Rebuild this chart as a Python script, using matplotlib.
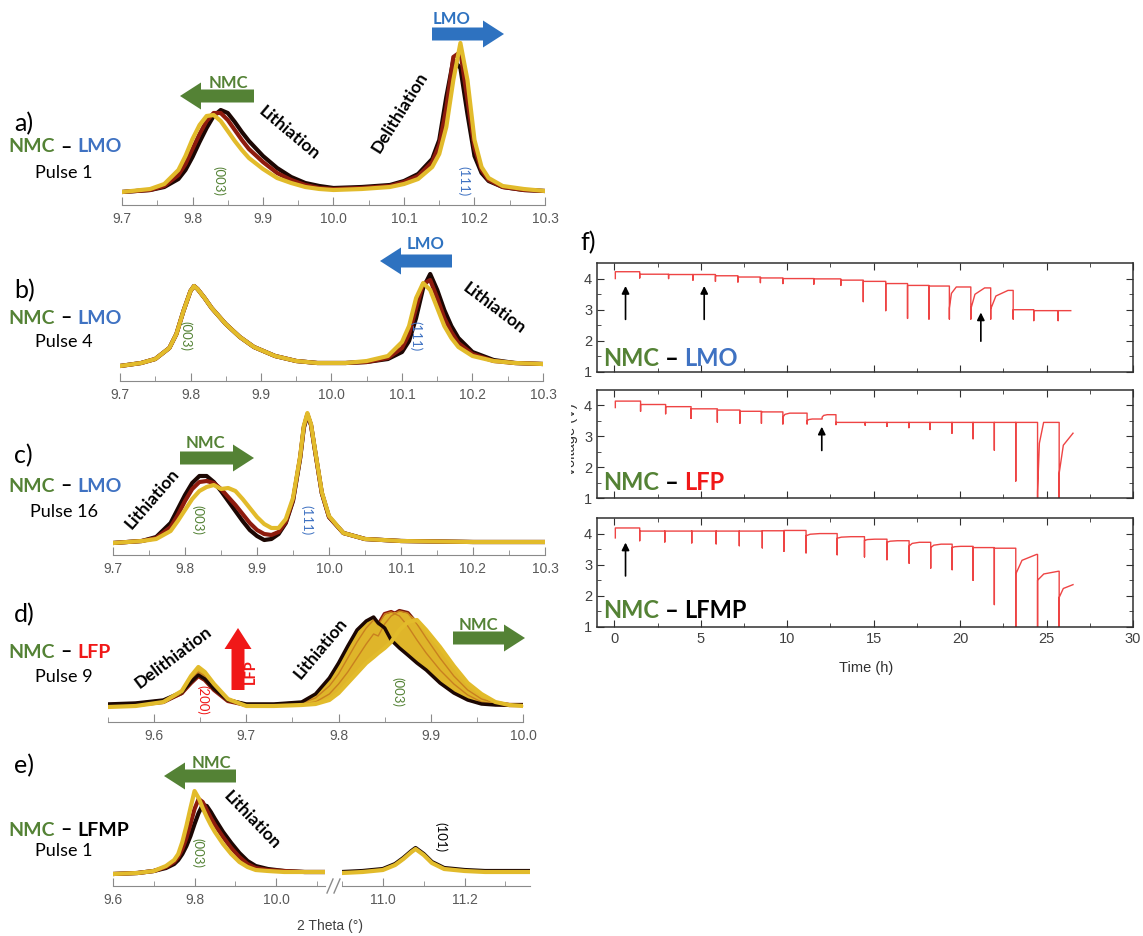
import numpy as np
import matplotlib
matplotlib.use('Agg')
import matplotlib.pyplot as plt
from matplotlib.patches import FancyArrow
from matplotlib.lines import Line2D
from matplotlib.offsetbox import TextArea, HPacker, AnnotationBbox
from matplotlib.transforms import Bbox

# ---------------- data ----------------
# XRD scans, intensity given as height above baseline (pixels of the original)
a_theta = [9.70, 9.74, 9.76, 9.78, 9.79, 9.80, 9.81, 9.82, 9.83, 9.84, 9.85, 9.86, 9.87, 9.88, 9.90,
           9.92, 9.94, 9.96, 9.98, 10.00, 10.04, 10.08, 10.10, 10.12, 10.14, 10.15, 10.16, 10.17,
           10.18, 10.19, 10.20, 10.21, 10.22, 10.24, 10.27, 10.30]
a_first = [0, 2, 5, 13, 22, 35, 50, 64, 76, 82, 79, 70, 60, 51, 36, 24, 15, 9, 6, 4, 5, 7, 11, 18,
           33, 52, 95, 132, 124, 78, 36, 19, 11, 5, 2, 1]
a_mid = [0, 2, 6, 17, 28, 43, 58, 71, 79, 79, 72, 62, 52, 43, 30, 19, 12, 7, 4, 3, 4, 6, 10, 16,
         30, 47, 84, 135, 140, 92, 44, 22, 12, 5, 2, 1]
a_last = [0, 3, 8, 22, 36, 53, 67, 76, 77, 71, 61, 51, 42, 34, 23, 14, 9, 5, 3, 2, 3, 5, 8, 13,
          25, 38, 65, 112, 149, 112, 52, 25, 14, 6, 3, 1]

b_theta = [9.70, 9.73, 9.75, 9.77, 9.78, 9.79, 9.80, 9.805, 9.81, 9.82, 9.83, 9.85, 9.87, 9.89,
           9.92, 9.95, 9.98, 10.02, 10.05, 10.08, 10.10, 10.11, 10.12, 10.13, 10.14, 10.15, 10.16,
           10.17, 10.18, 10.20, 10.23, 10.26, 10.30]
b_first = [0, 3, 7, 18, 32, 55, 75, 80, 77, 68, 58, 42, 29, 19, 10, 5, 3, 3, 4, 7, 14, 25, 48,
           78, 92, 76, 56, 40, 28, 14, 6, 3, 2]
b_mid = [0, 3, 7, 18, 32, 55, 75, 80, 77, 68, 58, 42, 29, 19, 10, 5, 3, 3, 4, 8, 18, 32, 58,
         82, 86, 68, 48, 34, 23, 12, 5, 3, 2]
b_last = [0, 3, 7, 18, 32, 55, 75, 80, 77, 68, 58, 42, 29, 19, 10, 5, 3, 3, 5, 10, 24, 40, 68,
          83, 76, 58, 40, 28, 19, 10, 5, 3, 2]

c_theta = [9.70, 9.74, 9.76, 9.78, 9.79, 9.80, 9.81, 9.82, 9.83, 9.84, 9.85, 9.86, 9.87, 9.88,
           9.89, 9.90, 9.91, 9.92, 9.93, 9.94, 9.95, 9.96, 9.965, 9.97, 9.975, 9.98, 9.99, 10.00,
           10.02, 10.05, 10.10, 10.20, 10.30]
c_first = [0, 2, 6, 20, 34, 48, 60, 67, 67, 61, 52, 42, 32, 22, 13, 7, 3, 4, 9, 20, 42, 85, 115,
           128, 118, 95, 50, 26, 10, 4, 2, 1, 1]
c_mid = [0, 2, 5, 16, 28, 42, 54, 61, 62, 60, 54, 46, 38, 29, 20, 13, 9, 8, 11, 21, 43, 86, 116,
         129, 118, 95, 50, 26, 10, 4, 2, 1, 1]
c_last = [0, 2, 4, 12, 22, 33, 44, 52, 56, 58, 54, 55, 52, 44, 35, 26, 19, 15, 15, 24, 45, 87,
          117, 130, 119, 96, 51, 27, 10, 4, 2, 1, 1]

d_theta = [9.55, 9.58, 9.61, 9.63, 9.64, 9.648, 9.655, 9.665, 9.68, 9.70, 9.73, 9.76, 9.775, 9.79,
           9.80, 9.81, 9.82, 9.83, 9.838, 9.843, 9.85, 9.857, 9.866, 9.875, 9.885, 9.895, 9.91,
           9.925, 9.94, 9.955, 9.97, 9.985, 10.0]
d_first = [4, 5, 8, 16, 26, 33, 29, 19, 8, 4, 4, 6, 14, 30, 45, 62, 78, 87, 91, 85, 80, 68, 60,
           53, 45, 38, 25, 15, 8, 4, 3, 3, 3]
d_mid = [3, 4, 7, 15, 25, 32, 28, 18, 7, 3, 3, 5, 10, 22, 34, 50, 66, 80, 88, 83, 94, 96, 92, 82,
         68, 55, 38, 24, 13, 6, 4, 3, 3]
d_late = [2, 3, 6, 15, 28, 36, 32, 21, 8, 3, 3, 4, 6, 14, 24, 36, 50, 64, 74, 72, 84, 92, 97, 95,
          84, 70, 50, 32, 18, 9, 5, 3, 3]
d_last = [1, 2, 6, 17, 32, 41, 36, 24, 9, 2, 2, 3, 4, 8, 15, 25, 35, 45, 51, 55, 60, 66, 78, 86,
          88, 78, 61, 42, 25, 14, 6, 3, 2]

e_theta_l = [9.60, 9.66, 9.70, 9.73, 9.75, 9.76, 9.77, 9.78, 9.79, 9.80, 9.81, 9.82, 9.83, 9.84,
             9.85, 9.87, 9.89, 9.91, 9.93, 9.95, 9.98, 10.02, 10.07, 10.12]
e_first_l = [0, 1, 3, 6, 10, 14, 20, 28, 38, 50, 61, 69, 68, 62, 55, 42, 31, 21, 13, 8, 5, 3, 2, 2]
e_mid_l = [0, 1, 3, 7, 12, 17, 25, 36, 50, 65, 75, 72, 64, 56, 49, 37, 26, 17, 10, 6, 4, 3, 2, 2]
e_last_l = [0, 1, 3, 8, 14, 20, 32, 48, 66, 83, 76, 66, 57, 49, 42, 30, 20, 12, 7, 4, 3, 2, 2, 2]
e_theta_r = [10.90, 10.95, 11.00, 11.03, 11.05, 11.07, 11.08, 11.10, 11.12, 11.15, 11.20, 11.25,
             11.30, 11.36]
e_first_r = [2, 3, 5, 10, 16, 23, 26, 20, 12, 6, 4, 3, 3, 3]
e_last_r = [1, 2, 4, 9, 15, 22, 25, 19, 11, 5, 3, 2, 2, 2]

# pulse voltage profiles: pulse start (h), dip (V), value right after (V), value reached (V), rise time (h)
lmo_t = [0.06, 1.47, 3.14, 4.55, 5.85, 7.15, 8.45, 9.75, 11.54, 13.1, 14.4, 15.7, 16.96, 18.2,
         19.38, 20.62, 21.77, 23.07, 24.26, 25.67]
lmo_dip = [4.0, 4.02, 4.0, 3.95, 3.91, 3.89, 3.87, 3.84, 3.82, 3.78, 3.26, 2.97, 2.72, 2.70, 2.70,
           2.70, 2.70, 2.70, 2.65, 2.65]
lmo_rec = [4.22, 4.14, 4.13, 4.13, 4.09, 4.05, 4.02, 4.0, 3.99, 3.95, 3.91, 3.84, 3.78, 3.76,
           3.05, 3.02, 3.02, 3.0, 2.97, 2.97]
lmo_end = [4.22, 4.14, 4.13, 4.13, 4.09, 4.05, 4.02, 4.0, 3.99, 3.95, 3.91, 3.84, 3.78, 3.76,
           3.73, 3.70, 3.62, 3.0, 2.97, 2.97]
lmo_rise = [0.3, 0.3, 0.3, 0.3, 0.3, 0.3, 0.3, 0.3, 0.3, 0.3, 0.3, 0.3, 0.3, 0.3, 0.4, 0.8, 1.0,
            0.3, 0.3, 0.3]
lmo_stop = 26.4

lfp_t = [0.06, 1.52, 2.97, 4.44, 5.96, 7.26, 8.51, 9.75, 11.15, 12.02, 12.82, 14.51, 15.77, 17.04,
         18.26, 19.53, 20.75, 21.98, 23.22, 24.48, 25.73]
lfp_dip = [3.93, 3.81, 3.73, 3.58, 3.46, 3.42, 3.42, 3.40, 3.40, 3.56, 3.38, 3.36, 3.32, 3.28,
           3.22, 3.10, 2.92, 2.55, 1.55, 1.0, 1.0]
lfp_rec = [4.14, 4.03, 3.96, 3.89, 3.85, 3.81, 3.79, 3.62, 3.50, 3.62, 3.45, 3.45, 3.45, 3.45,
           3.45, 3.45, 3.45, 3.45, 3.45, 1.2, 1.8]
lfp_end = [4.14, 4.03, 3.96, 3.89, 3.85, 3.81, 3.79, 3.75, 3.56, 3.70, 3.45, 3.45, 3.45, 3.45,
           3.45, 3.45, 3.45, 3.45, 3.45, 3.45, 3.1]
lfp_rise = [0.3, 0.3, 0.3, 0.3, 0.3, 0.3, 0.3, 0.4, 0.3, 0.3, 0.3, 0.3, 0.3, 0.3, 0.3, 0.3, 0.3,
            0.3, 0.3, 0.35, 0.8]
lfp_stop = 26.53

lfmp_t = [0.06, 1.47, 2.92, 4.48, 5.89, 7.23, 8.56, 9.81, 11.09, 12.89, 14.47, 15.77, 17.05,
          18.3, 19.54, 20.75, 21.98, 23.22, 24.48, 25.73]
lfmp_dip = [3.86, 3.77, 3.73, 3.70, 3.67, 3.61, 3.54, 3.43, 3.38, 3.32, 3.25, 3.16, 3.05, 2.89,
            2.84, 2.5, 1.72, 1.0, 1.0, 1.0]
lfmp_rec = [4.18, 4.08, 4.08, 4.08, 4.08, 4.08, 4.09, 4.1, 3.93, 3.85, 3.78, 3.72, 3.6, 3.55,
            3.55, 3.55, 3.53, 2.7, 2.5, 1.95]
lfmp_end = [4.18, 4.08, 4.08, 4.08, 4.08, 4.08, 4.09, 4.1, 4.0, 3.9, 3.82, 3.77, 3.72, 3.66,
            3.59, 3.55, 3.53, 3.33, 2.79, 2.36]
lfmp_rise = [0.3, 0.3, 0.3, 0.3, 0.3, 0.3, 0.3, 0.3, 0.8, 0.8, 0.6, 0.6, 0.6, 0.6, 0.5, 0.3, 0.3,
             1.2, 1.2, 0.8]
lfmp_stop = 26.53

# ---------------- styling ----------------
W, H = 1143, 936
GREEN = '#548235'
BLUE = '#3F72C2'
RED = '#F01818'
ARROW_BLUE = '#2E72C0'
TICKCOL = '#595959'
SCAN = ['#1c0703', '#8e1b0d', '#7a1a0c', '#e2bb2b']
BAND = '#dfb52a'
STREAK = '#c9801f'
LABEL_FONT = ['Lato', 'DejaVu Sans']
plt.rcParams['font.family'] = ['Liberation Sans', 'DejaVu Sans']

fig = plt.figure(figsize=(W / 100, H / 100), dpi=100)


def add_ax(x0, x1, ytop, ybot):
    return fig.add_axes([x0 / W, 1 - ybot / H, (x1 - x0) / W, (ybot - ytop) / H])


def xrd_axes(x0, x1, ytop, yaxis, off, xlim, majors, minors):
    ax = add_ax(x0, x1, ytop, yaxis)
    ax.set_xlim(*xlim)
    ax.set_ylim(-off, yaxis - ytop - off)
    ax.patch.set_alpha(0)
    for s in ['left', 'right', 'top']:
        ax.spines[s].set_visible(False)
    ax.spines['bottom'].set_color('#8a8a8a')
    ax.set_yticks([])
    ax.set_xticks(majors)
    ax.set_xticklabels(['%.1f' % v for v in majors])
    ax.set_xticks(minors, minor=True)
    ax.tick_params(axis='x', which='both', direction='in', color='#8a8a8a',
                   labelsize=10, labelcolor=TICKCOL, pad=5)
    ax.tick_params(axis='x', which='major', length=6)
    ax.tick_params(axis='x', which='minor', length=3.5)
    return ax


def scans(ax, theta, curves, colors, lw=3, z=2):
    for ys, c in zip(curves, colors):
        ax.plot(theta, ys, color=c, lw=lw, solid_joinstyle='round', solid_capstyle='round',
                zorder=z)


def ftext(x, y, s, size, color='k', weight='normal', rot=0, ha='center', family=LABEL_FONT):
    return fig.text(x / W, 1 - y / H, s, fontsize=size, color=color, fontweight=weight,
                    rotation=rot, ha=ha, va='center', family=family, rotation_mode='anchor')


def fat_arrow(x0, y0, x1, y1, color):
    arr = FancyArrow(x0 / 100, (H - y0) / 100, (x1 - x0) / 100, (y0 - y1) / 100,
                     width=0.13, head_width=0.27, head_length=0.21,
                     length_includes_head=True, color=color, lw=0,
                     transform=fig.dpi_scale_trans)
    fig.add_artist(arr)


def pair_label(x, y, parts, size):
    boxes = [TextArea(s, textprops=dict(color=c, fontsize=size, fontweight='bold',
                                        family=LABEL_FONT)) for s, c in parts]
    pack = HPacker(children=boxes, align='baseline', pad=0, sep=4)
    ab = AnnotationBbox(pack, (x / 100, (H - y) / 100), xycoords=fig.dpi_scale_trans,
                        frameon=False, box_alignment=(0, 0.5), pad=0)
    fig.add_artist(ab)


def panel_text(y_letter, y_pair, y_pulse, letter, partner, pcolor, pulse):
    ftext(14, y_letter, letter, 18, ha='left')
    pair_label(8, y_pair, [('NMC', GREEN), ('\u2013', 'k'), (partner, pcolor)], 14)
    ftext(64, y_pulse, pulse, 13)


# ---------------- a) ----------------
ax = xrd_axes(122, 545, 30, 205, 13, (9.7, 10.3),
              [9.7, 9.8, 9.9, 10.0, 10.1, 10.2, 10.3], [9.75, 9.85, 9.95, 10.05, 10.15, 10.25])
scans(ax, a_theta, [a_first, a_mid, a_last], [SCAN[0], SCAN[1], SCAN[3]])
panel_text(124, 147, 173, 'a)', 'LMO', BLUE, 'Pulse 1')
fat_arrow(254, 96, 180, 96, GREEN)
ftext(228, 83, 'NMC', 12, GREEN, 'bold')
fat_arrow(432, 34, 504, 34, ARROW_BLUE)
ftext(452, 19, 'LMO', 12, ARROW_BLUE, 'bold')
ftext(289, 133, 'Lithiation', 12.5, weight='bold', rot=-40)
ftext(400, 112, 'Delithiation', 12.5, weight='bold', rot=58)
ftext(219, 181, '(003)', 9.5, GREEN, rot=270)
ftext(464, 181, '(111)', 9.5, BLUE, rot=270)

# ---------------- b) ----------------
ax = xrd_axes(120, 543, 230, 381, 15, (9.7, 10.3),
              [9.7, 9.8, 9.9, 10.0, 10.1, 10.2, 10.3], [9.75, 9.85, 9.95, 10.05, 10.15, 10.25])
scans(ax, b_theta, [b_first, b_mid, b_last], [SCAN[0], SCAN[1], SCAN[3]])
panel_text(291, 318, 342, 'b)', 'LMO', BLUE, 'Pulse 4')
fat_arrow(452, 261, 380, 261, ARROW_BLUE)
ftext(426, 244, 'LMO', 12, ARROW_BLUE, 'bold')
ftext(494, 308, 'Lithiation', 12.5, weight='bold', rot=-37)
ftext(186, 336, '(003)', 9.5, GREEN, rot=270)
ftext(416, 336, '(111)', 9.5, BLUE, rot=270)

# ---------------- c) ----------------
ax = xrd_axes(113, 545, 400, 555, 12, (9.7, 10.3),
              [9.7, 9.8, 9.9, 10.0, 10.1, 10.2, 10.3], [9.75, 9.85, 9.95, 10.05, 10.15, 10.25])
scans(ax, c_theta, [c_first, c_mid, c_last], [SCAN[0], SCAN[1], SCAN[3]])
panel_text(456, 486, 512, 'c)', 'LMO', BLUE, 'Pulse 16')
fat_arrow(180, 458, 254, 458, GREEN)
ftext(205, 443, 'NMC', 12, GREEN, 'bold')
ftext(152, 499, 'Lithiation', 12.5, weight='bold', rot=49)
ftext(198, 520, '(003)', 9.5, GREEN, rot=270)
ftext(307, 520, '(111)', 9.5, BLUE, rot=270)

# ---------------- d) ----------------
ax = xrd_axes(108, 523, 590, 722, 14, (9.55, 10.0),
              [9.6, 9.7, 9.8, 9.9, 10.0], [9.55, 9.65, 9.75, 9.85, 9.95])
d_all = np.array([d_first, d_mid, d_late, d_last])
scans(ax, d_theta, [d_mid, d_late], [SCAN[1], SCAN[2]], z=2)
ax.fill_between(d_theta, d_all.min(axis=0), d_all.max(axis=0), color=BAND, lw=0, zorder=2.1)
scans(ax, d_theta, [d_mid, d_late], [STREAK, STREAK], lw=1.0, z=2.15)
scans(ax, d_theta, [d_first], [SCAN[0]], lw=2.5, z=2.2)
scans(ax, d_theta, [d_last], [SCAN[3]], z=2.3)
panel_text(615, 652, 677, 'd)', 'LFP', RED, 'Pulse 9')
fat_arrow(238, 690, 238, 628, RED)
ftext(251, 672, 'LFP', 10.5, RED, 'bold', rot=90)
ftext(173, 657, 'Delithiation', 12.5, weight='bold', rot=37)
ftext(321, 648, 'Lithiation', 12.5, weight='bold', rot=50)
fat_arrow(453, 638, 525, 638, GREEN)
ftext(478, 625, 'NMC', 12, GREEN, 'bold')
ftext(203, 700, '(200)', 9.5, RED, rot=270)
ftext(398, 692, '(003)', 9.5, GREEN, rot=270)

# ---------------- e) broken axis ----------------
ax = xrd_axes(113, 325, 760, 886, 12, (9.6, 10.12),
              [9.6, 9.8, 10.0], [9.7, 9.9, 10.1])
scans(ax, e_theta_l, [e_first_l, e_mid_l, e_last_l], [SCAN[0], SCAN[1], SCAN[3]])
ax = xrd_axes(342, 530, 760, 886, 12, (10.9, 11.36),
              [11.0, 11.2], [10.9, 11.1, 11.3])
scans(ax, e_theta_r, [e_first_r, e_last_r], [SCAN[0], SCAN[3]])
for xb in (327, 334):
    fig.add_artist(Line2D([xb / W, (xb + 6) / W], [1 - 893 / H, 1 - 879 / H],
                          color='#8a8a8a', lw=1))
panel_text(766, 830, 851, 'e)', 'LFMP', 'k', 'Pulse 1')
fat_arrow(236, 776, 164, 776, GREEN)
ftext(211, 763, 'NMC', 12, GREEN, 'bold')
ftext(252, 820, 'Lithiation', 12.5, weight='bold', rot=-46)
ftext(198, 853, '(003)', 9.5, GREEN, rot=270)
ftext(441, 837, '(101)', 9.5, 'k', rot=270)
ftext(330, 926, '2 Theta (\u00b0)', 10, '#404040', family=['Liberation Sans', 'DejaVu Sans'])


# ---------------- f) voltage profiles ----------------
def profile(t, dip, rec, end, rise, stop):
    xs, ys = [t[0]], [dip[0]]
    prev = dip[0]
    for i in range(len(t)):
        nxt = t[i + 1] if i + 1 < len(t) else stop
        xs += [t[i], t[i], t[i], t[i] + 0.3 * rise[i], t[i] + rise[i], nxt]
        ys += [prev, dip[i], rec[i], rec[i] + 0.7 * (end[i] - rec[i]), end[i], end[i]]
        prev = end[i]
    return xs, ys


def f_axes(ytop, ybot, labels):
    ax = add_ax(597, 1133, ytop, ybot)
    ax.set_xlim(-1, 30)
    ax.set_ylim(1, 4.5)
    ax.set_xticks([0, 5, 10, 15, 20, 25, 30])
    ax.set_xticks([2.5, 7.5, 12.5, 17.5, 22.5, 27.5], minor=True)
    ax.set_yticks([1, 2, 3, 4])
    ax.set_yticks([1.5, 2.5, 3.5], minor=True)
    for s in ax.spines.values():
        s.set_color('#303030')
        s.set_linewidth(1.1)
    ax.tick_params(which='both', direction='in', top=True, right=True, color='#303030',
                   labelsize=10.5, labelcolor='#404040', labelbottom=labels)
    ax.tick_params(which='major', length=5)
    ax.tick_params(which='minor', length=3)
    return ax


panels_f = [
    (263, 372, False, (lmo_t, lmo_dip, lmo_rec, lmo_end, lmo_rise, lmo_stop),
     [(0.65, 2.6, 3.85), (5.2, 2.6, 3.85), (21.2, 1.9, 3.0)], 'LMO', BLUE, 358),
    (390, 498, False, (lfp_t, lfp_dip, lfp_rec, lfp_end, lfp_rise, lfp_stop),
     [(12.0, 2.45, 3.4)], 'LFP', RED, 483),
    (518, 627, True, (lfmp_t, lfmp_dip, lfmp_rec, lfmp_end, lfmp_rise, lfmp_stop),
     [(0.65, 2.55, 3.8)], 'LFMP', 'k', 611),
]
for ytop, ybot, labels, prof, arrows, partner, pcolor, ylab in panels_f:
    ax = f_axes(ytop, ybot, labels)
    xs, ys = profile(*prof)
    ax.plot(xs, ys, color='#EE4444', lw=1.0)
    for t, v0, v1 in arrows:
        ax.annotate('', xy=(t, v1), xytext=(t, v0),
                    arrowprops=dict(arrowstyle='-|>', color='k', lw=1.2, mutation_scale=11))
    pair_label(603, ylab, [('NMC', GREEN), ('\u2013', 'k'), (partner, pcolor)], 17)

ftext(580, 243, 'f)', 18, ha='left')
ftext(866, 668, 'Time (h)', 10.5, '#303030', family=['Liberation Sans', 'DejaVu Sans'])
vt = ftext(571, 440, 'Voltage (V)', 10.5, '#303030', rot=90,
           family=['Liberation Sans', 'DejaVu Sans'])
vt.set_clip_box(Bbox.from_extents(571, 0, W, H))
vt.set_clip_on(True)

fig.savefig('out.png', dpi=100)
